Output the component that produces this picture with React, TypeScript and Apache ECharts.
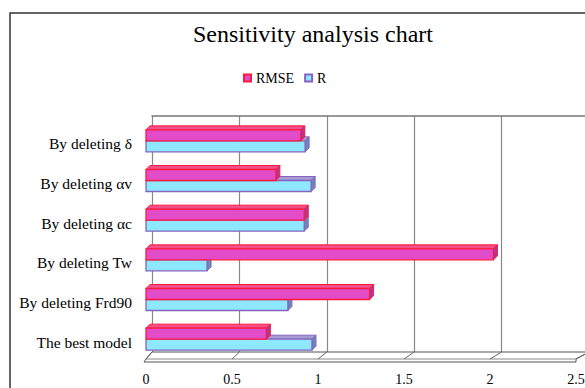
import React, { useEffect, useRef } from "react";
import * as echarts from "echarts";

const categories = [
  "The best model",
  "By deleting Frd90",
  "By deleting Tw",
  "By deleting αc",
  "By deleting αv",
  "By deleting δ",
];
const rmseValues = [0.7, 1.3, 2.02, 0.92, 0.755, 0.9];
const rValues = [0.965, 0.825, 0.355, 0.92, 0.96, 0.925];
const xTicks = [0, 0.5, 1, 1.5, 2, 2.5];

const FONT = "Liberation Serif";

// layout
const BACK = { left: 152, top: 116, width: 437, height: 236 };
const FRONT = { left: 146, top: 121, width: 430, height: 238 };
const XMAX = 2.5;

const barRender = (isRmse: boolean, colors: any) => (params: any, api: any) => {
  const v = api.value(0);
  const idx = api.value(1);
  const p1 = api.coord([v, idx]);
  const p0 = api.coord([0, idx]);
  const h = 11;
  const d = 4;
  const top = isRmse ? p1[1] - h : p1[1];
  const x0 = p0[0];
  const x1 = p1[0];
  return {
    type: "group",
    children: [
      {
        type: "polygon",
        shape: { points: [[x0, top], [x0 + d, top - d], [x1 + d, top - d], [x1, top]] },
        style: { fill: colors.top, stroke: colors.border, lineWidth: 1 },
      },
      {
        type: "polygon",
        shape: { points: [[x1, top], [x1 + d, top - d], [x1 + d, top + h - d], [x1, top + h]] },
        style: { fill: colors.side, stroke: colors.border, lineWidth: 1 },
      },
      {
        type: "rect",
        shape: { x: x0, y: top, width: x1 - x0, height: h },
        style: { fill: colors.fill, stroke: colors.border, lineWidth: 1.3 },
      },
    ],
  };
};

const RMSE_COL = { fill: "#E34CC9", border: "#FF1A3C", side: "#A8389C", top: "#F2508A" };
const R_COL = { fill: "#8EE8FF", border: "#8464C0", side: "#6F86B8", top: "#A79BD3" };

export default function App() {
  const ref = useRef<HTMLDivElement>(null);
  useEffect(() => {
    if (!ref.current) return;
    const chart = echarts.init(ref.current, null, { renderer: "svg" });

    const backX = (t: number) => BACK.left + (t / XMAX) * BACK.width;
    const frontX = (t: number) => FRONT.left + (t / XMAX) * FRONT.width;
    const by = BACK.top + BACK.height;
    const fy = FRONT.top + FRONT.height;

    const floor: any[] = [
      {
        type: "polygon",
        shape: {
          points: [
            [backX(0), by],
            [backX(XMAX), by],
            [frontX(XMAX), fy],
            [frontX(XMAX), fy + 3],
            [frontX(0) - 2, fy + 3],
            [frontX(0), fy],
          ],
        },
        style: { fill: "#fff", stroke: "#555", lineWidth: 1 },
        z: 1,
      },
      {
        type: "line",
        shape: { x1: frontX(0), y1: fy, x2: frontX(XMAX), y2: fy },
        style: { stroke: "#888", lineWidth: 1 },
        z: 1,
      },
      ...xTicks.map((t) => ({
        type: "line",
        shape: { x1: backX(t), y1: by, x2: frontX(t), y2: fy },
        style: { stroke: "#666", lineWidth: 1 },
        z: 1,
      })),
      {
        type: "rect",
        shape: { x: 10, y: 13, width: 700, height: 500 },
        style: { fill: "none", stroke: "#333", lineWidth: 1.5 },
        z: 0,
      },
    ];

    chart.setOption({
      animation: false,
      backgroundColor: "#fff",
      textStyle: { fontFamily: FONT },
      title: {
        text: "Sensitivity analysis chart",
        left: 313,
        textAlign: "center",
        top: 22,
        padding: 0,
        textStyle: { fontFamily: FONT, fontSize: 24, fontWeight: "normal", color: "#000" },
      },
      legend: {
        data: ["RMSE", "R"],
        left: 238,
        top: 66,
        icon: "rect",
        itemWidth: 7,
        itemHeight: 7,
        itemGap: 10,
        textStyle: { fontFamily: FONT, fontSize: 14, color: "#000" },
      },
      grid: [
        { left: BACK.left, top: BACK.top, width: BACK.width, height: BACK.height },
        { left: FRONT.left, top: FRONT.top, width: FRONT.width, height: FRONT.height },
      ],
      xAxis: [
        {
          gridIndex: 0,
          type: "value",
          min: 0,
          max: XMAX,
          interval: 0.5,
          position: "top",
          axisLine: { show: true, lineStyle: { color: "#777", width: 1.5 } },
          axisTick: { show: false },
          axisLabel: { show: false },
          splitLine: { show: true, lineStyle: { color: "#888", width: 1.2 } },
        },
        {
          gridIndex: 1,
          type: "value",
          min: 0,
          max: XMAX,
          interval: 0.5,
          axisLine: { show: false },
          axisTick: { show: false },
          splitLine: { show: false },
          axisLabel: { margin: 13, fontFamily: FONT, fontSize: 14, color: "#000" },
        },
      ],
      yAxis: [
        { gridIndex: 0, type: "category", data: categories, show: false },
        {
          gridIndex: 1,
          type: "category",
          data: categories,
          axisLine: { show: false },
          axisTick: { show: false },
          splitLine: { show: false },
          axisLabel: {
            margin: 14,
            fontFamily: FONT,
            fontSize: 15.5,
            color: "#000",
            verticalAlign: "top",
            lineHeight: 16,
            padding: [-5, 0, 0, 0],
          },
        },
      ],
      graphic: floor,
      series: [
        {
          name: "RMSE",
          type: "custom",
          xAxisIndex: 1,
          yAxisIndex: 1,
          z: 4,
          itemStyle: { color: RMSE_COL.fill, borderColor: RMSE_COL.border, borderWidth: 1 },
          encode: { x: 0, y: 1 },
          data: rmseValues.map((v, i) => [v, i]),
          renderItem: barRender(true, RMSE_COL),
        },
        {
          name: "R",
          type: "custom",
          xAxisIndex: 1,
          yAxisIndex: 1,
          z: 3,
          itemStyle: { color: R_COL.fill, borderColor: R_COL.border, borderWidth: 1 },
          encode: { x: 0, y: 1 },
          data: rValues.map((v, i) => [v, i]),
          renderItem: barRender(false, R_COL),
        },
      ],
    });
    return () => chart.dispose();
  }, []);
  return (
    <div
      ref={ref}
      style={{ position: "fixed", left: 0, top: 0, width: 600, height: 400 }}
    />
  );
}
